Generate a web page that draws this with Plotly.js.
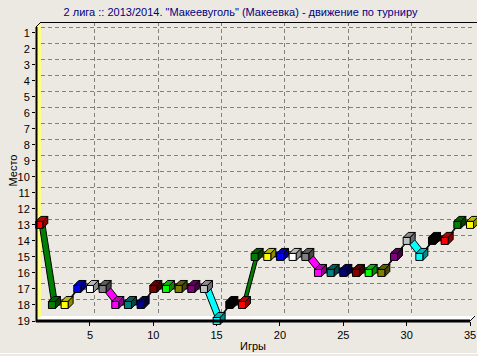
<!DOCTYPE html>
<html>
<head>
<meta charset="utf-8">
<script src="https://cdn.plot.ly/plotly-3.0.1.min.js"></script>
<style>
  html, body { margin: 0; padding: 0; background: #ECE9E2; }
  #chart { width: 478px; height: 356px; }
</style>
</head>
<body>
<div id="chart"></div>
<script>
// ---------------- data ----------------
const games = [1, 2, 3, 4, 5, 6, 7, 8, 9, 10, 11, 12, 13, 14, 15, 16, 17, 18,
               19, 20, 21, 22, 23, 24, 25, 26, 27, 28, 29, 30, 31, 32, 33, 34, 35];
const places = [13, 18, 18, 17, 17, 17, 18, 18, 18, 17, 17, 17, 17, 17, 19, 18, 18, 15,
                15, 15, 15, 15, 16, 16, 16, 16, 16, 16, 15, 14, 15, 14, 14, 13, 13];
const xTickVals = [5, 10, 15, 20, 25, 30, 35];
const yTickVals = [1, 2, 3, 4, 5, 6, 7, 8, 9, 10, 11, 12, 13, 14, 15, 16, 17, 18, 19];
const titleText = '2 лига :: 2013/2014. "Макеевуголь" (Макеевка) - движение по турниру';
const xTitle = 'Игры';
const yTitle = 'Место';

// ---------------- style ----------------
const palette = ['#FF0000', '#008000', '#FFFF00', '#0000FF', '#FFFFFF', '#808080',
                 '#FF00FF', '#008080', '#000080', '#800000', '#00FF00', '#808000',
                 '#800080', '#C0C0C0', '#00FFFF', '#000000'];
const W = 478, H = 356;
const FR = {x0: 36, x1: 470, y0: 27, y1: 321};   // front plane (px)
const DEPTH = 5;                                   // 3D depth (px)
const xRange = [0.742, 35];
const yTop = 0.64, yBottom = 19;
const HALF = 3.5;                                  // half cube size (px)
const FONT = 'Liberation Sans, Arial, sans-serif';

const pxX = (FR.x1 - FR.x0) / (xRange[1] - xRange[0]);
const pxY = (FR.y1 - FR.y0) / (yBottom - yTop);
const dx = DEPTH / pxX, dy = DEPTH / pxY;
const hw = HALF / pxX, hh = HALF / pxY;

function px(x) { return x / W; }
function py(y) { return 1 - y / H; }
function shade(hex, f) {
  const n = parseInt(hex.slice(1), 16);
  const r = Math.round(((n >> 16) & 255) * f), g = Math.round(((n >> 8) & 255) * f), b = Math.round((n & 255) * f);
  return 'rgb(' + r + ',' + g + ',' + b + ')';
}
function colorOf(i) { return palette[i % palette.length]; }

const traces = [];
// placeholder traces so the front / back subplots exist
traces.push({x: [], y: [], xaxis: 'x', yaxis: 'y', type: 'scatter', showlegend: false, hoverinfo: 'skip'});
traces.push({x: [], y: [], xaxis: 'x2', yaxis: 'y2', type: 'scatter', showlegend: false, hoverinfo: 'skip'});

function poly(xs, ys, fill) {
  return {
    x: xs.concat([xs[0]]), y: ys.concat([ys[0]]),
    xaxis: 'x3', yaxis: 'y3', type: 'scatter', mode: 'lines', fill: 'toself',
    fillcolor: fill, line: {color: '#000000', width: 1},
    showlegend: false, hoverinfo: 'skip'
  };
}

// ribbons (3D line segments) coloured like the point they lead to
for (let i = 1; i < games.length; i++) {
  const x0 = games[i - 1], y0 = places[i - 1], x1 = games[i], y1 = places[i];
  traces.push(poly([x0, x1, x1 + dx, x0 + dx], [y0, y1, y1 - dy, y0 - dy], colorOf(i)));
}
// 3D cubes
for (let i = 0; i < games.length; i++) {
  const x = games[i], y = places[i], c = colorOf(i);
  // top face
  traces.push(poly([x - hw, x + hw, x + hw + dx, x - hw + dx],
                   [y - hh, y - hh, y - hh - dy, y - hh - dy], shade(c, 0.72)));
  // right face
  traces.push(poly([x + hw, x + hw, x + hw + dx, x + hw + dx],
                   [y - hh, y + hh, y + hh - dy, y - hh - dy], shade(c, 0.55)));
  // front face
  traces.push(poly([x - hw, x + hw, x + hw, x - hw],
                   [y - hh, y - hh, y + hh, y + hh], c));
}

const shapes = [
  // yellow left wall
  {type: 'path', xref: 'paper', yref: 'paper', layer: 'below',
   path: 'M' + px(36) + ',' + py(321) + ' L' + px(36) + ',' + py(27) + ' L' + px(41) + ',' + py(22) +
         ' L' + px(41) + ',' + py(316) + ' Z',
   fillcolor: '#FFFF80', line: {width: 0}},
  // white floor
  {type: 'path', xref: 'paper', yref: 'paper', layer: 'below',
   path: 'M' + px(36) + ',' + py(321) + ' L' + px(41) + ',' + py(316) + ' L' + px(475) + ',' + py(316) +
         ' L' + px(470) + ',' + py(321) + ' Z',
   fillcolor: '#FFFFFF', line: {width: 0}},
  // left front edge
  {type: 'line', xref: 'paper', yref: 'paper', x0: px(36.5), x1: px(36.5), y0: py(27), y1: py(322),
   line: {color: '#000000', width: 2}},
  // top-left diagonal
  {type: 'line', xref: 'paper', yref: 'paper', x0: px(36), x1: px(41), y0: py(27), y1: py(22),
   line: {color: '#000000', width: 1}},
  // back top edge
  {type: 'line', xref: 'paper', yref: 'paper', x0: px(41), x1: px(477), y0: py(22.5), y1: py(22.5),
   line: {color: '#000000', width: 1}},
  // front floor edge
  {type: 'line', xref: 'paper', yref: 'paper', x0: px(36), x1: px(470), y0: py(321), y1: py(321),
   line: {color: '#000000', width: 3}},
  // floor right diagonal
  {type: 'line', xref: 'paper', yref: 'paper', x0: px(470), x1: px(475), y0: py(321), y1: py(316),
   line: {color: '#000000', width: 1}},
  // panel bevel
  {type: 'line', xref: 'paper', yref: 'paper', x0: 0, x1: px(477), y0: py(353.5), y1: py(353.5),
   line: {color: '#FFFFFF', width: 1}},
  {type: 'line', xref: 'paper', yref: 'paper', x0: px(477.5), x1: px(477.5), y0: py(0), y1: py(353.5),
   line: {color: '#FFFFFF', width: 1}}
];

const gridStyle = {showgrid: true, gridcolor: '#808080', gridwidth: 1, griddash: '4px,3px',
                   zeroline: false, showline: false, showticklabels: false, ticks: ''};

const layout = {
  width: W, height: H,
  margin: {l: 0, r: 0, t: 0, b: 0},
  paper_bgcolor: '#ECE9E2',
  plot_bgcolor: 'rgba(0,0,0,0)',
  showlegend: false,
  font: {family: FONT, size: 11, color: '#000000'},
  title: {text: titleText, font: {family: FONT, size: 11, color: '#000080'},
          xref: 'paper', yref: 'paper', x: 240.5 / W, xanchor: 'center', y: py(12), yanchor: 'middle'},
  // front axes: ticks and labels
  xaxis: {domain: [px(FR.x0), px(FR.x1)], range: xRange, anchor: 'y',
          tickvals: xTickVals, ticks: 'outside', ticklen: 4, tickcolor: '#000000',
          showgrid: false, zeroline: false, showline: false,
          tickfont: {family: FONT, size: 11, color: '#000000'}},
  yaxis: {domain: [py(FR.y1), py(FR.y0)], range: [yBottom, yTop], anchor: 'x',
          tickvals: yTickVals, ticks: 'outside', ticklen: 3, tickcolor: '#000000',
          showgrid: false, zeroline: false, showline: false,
          tickfont: {family: FONT, size: 11, color: '#000000'}},
  // back wall: dashed grid
  xaxis2: Object.assign({domain: [px(FR.x0 + DEPTH), px(FR.x1 + DEPTH)], range: xRange, anchor: 'y2',
                         tickvals: xTickVals}, gridStyle),
  yaxis2: Object.assign({domain: [py(FR.y1 - DEPTH), py(FR.y0 - DEPTH)], range: [yBottom, yTop], anchor: 'x2',
                         tickvals: yTickVals}, gridStyle),
  // full-figure data axes, same scale as the front plane
  xaxis3: {domain: [0, 1], anchor: 'y3', visible: false,
           range: [xRange[0] - FR.x0 / pxX, xRange[0] + (W - FR.x0) / pxX]},
  yaxis3: {domain: [0, 1], anchor: 'x3', visible: false,
           range: [yTop + (H - FR.y0) / pxY, yTop - FR.y0 / pxY]},
  shapes: shapes,
  annotations: [
    {text: xTitle, xref: 'paper', yref: 'paper', x: px(253), y: py(346), xanchor: 'center', yanchor: 'middle',
     showarrow: false, font: {family: FONT, size: 11, color: '#000000'}},
    {text: yTitle, xref: 'paper', yref: 'paper', x: px(12.5), y: py(171), xanchor: 'center', yanchor: 'middle',
     textangle: -90, showarrow: false, font: {family: FONT, size: 11, color: '#000000'}}
  ]
};

Plotly.newPlot('chart', traces, layout, {staticPlot: true, displayModeBar: false});
</script>
</body>
</html>
